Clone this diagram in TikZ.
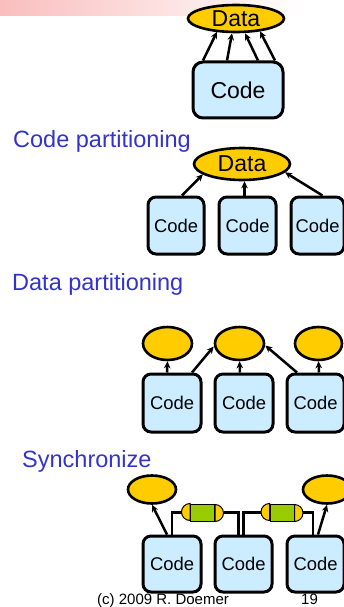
\documentclass[tikz,border=0pt]{standalone}
\usepackage{fontspec}
\setmainfont{Liberation Sans}
\usetikzlibrary{shapes.geometric,arrows.meta}
\definecolor{dgold}{RGB}{255,204,0}
\definecolor{cblue}{RGB}{204,236,255}
\definecolor{cgreen}{RGB}{153,204,0}
\definecolor{tblue}{RGB}{51,51,204}
\definecolor{band}{RGB}{250,190,190}
\tikzset{
  x=1pt, y=1pt,
  dataell/.style={ellipse, draw=black, line width=2.6pt, fill=dgold, inner sep=0pt},
  codebox/.style={rectangle, rounded corners=8pt, draw=black, line width=3pt, fill=cblue, inner sep=0pt},
  bigtxt/.style={font=\fontsize{23}{26}\selectfont},
  smalltxt/.style={font=\fontsize{18.4}{21}\selectfont},
  headtxt/.style={font=\fontsize{23.5}{27}\selectfont, text=tblue, anchor=base west, inner sep=0pt},
  foottxt/.style={font=\fontsize{15}{17}\selectfont, anchor=base west, inner sep=0pt},
  arr/.style={-{Stealth[length=7pt,width=6.5pt]}, line width=2.5pt},
  wire/.style={line width=2.5pt},
  chan/.style={rectangle, draw=black, line width=1pt, fill=cgreen, minimum width=24pt, minimum height=17pt, inner sep=0pt},
  chancap/.style={fill=dgold, draw=black, line width=1pt},
}
\begin{document}
\begin{tikzpicture}
\useasboundingbox (0,0) rectangle (344,-607);
\begin{scope}
\clip (0,0) rectangle (344,-607);
% top band
\shade[left color=band, right color=white] (0,0) rectangle (300,-16);
\fill[white] (300,0) rectangle (344,-16);

% ---- section 1
\node[dataell, bigtxt, minimum width=96pt, minimum height=27pt] (d1) at (236,-18.5) {Data};
\node[codebox, bigtxt, minimum width=90pt, minimum height=56pt, rounded corners=10pt] (c1) at (238,-90) {Code};
\draw[arr] ([xshift=-35pt]c1.north) -- ([xshift=-19pt,yshift=1.5pt]d1.south);
\draw[arr] ([xshift=-11pt]c1.north) -- ([xshift=-4pt]d1.south);
\draw[arr] ([xshift=20pt]c1.north) -- ([xshift=9pt]d1.south);
\draw[arr] ([xshift=37pt]c1.north) -- ([xshift=24pt,yshift=2pt]d1.south);

\node[headtxt] (h1) at (13,-147) {Code partitioning};

% ---- section 2
\node[dataell, bigtxt, minimum width=96pt, minimum height=32pt] (d2) at (242,-164) {Data};
\node[codebox, smalltxt, minimum width=56pt, minimum height=57pt] (c2a) at (176,-225.5) {Code};
\node[codebox, smalltxt, minimum width=57pt, minimum height=57pt] (c2b) at (247.5,-225.5) {Code};
\node[codebox, smalltxt, minimum width=53pt, minimum height=57pt] (c2c) at (317.5,-225.5) {Code};
\draw[arr] ([xshift=6pt]c2a.north) -- ([xshift=-39pt,yshift=7pt]d2.south);
\draw[arr] ([xshift=-3pt]c2b.north) -- ([xshift=2.5pt]d2.south);
\draw[arr] ([xshift=5pt]c2c.north) -- ([xshift=43pt,yshift=9pt]d2.south);

\node[headtxt] (h2) at (12,-290) {Data partitioning};

% ---- section 3
\node[dataell, minimum width=49pt, minimum height=33pt] (e1) at (167.5,-343.5) {};
\node[dataell, minimum width=49pt, minimum height=33pt] (e2) at (239.5,-343.5) {};
\node[dataell, minimum width=47pt, minimum height=33pt] (e3) at (318.5,-343.5) {};
\node[codebox, smalltxt, minimum width=58pt, minimum height=58pt] (c3a) at (172,-403) {Code};
\node[codebox, smalltxt, minimum width=58pt, minimum height=58pt] (c3b) at (244,-403) {Code};
\node[codebox, smalltxt, minimum width=57pt, minimum height=58pt] (c3c) at (315.5,-403) {Code};
\draw[arr] ([xshift=-5pt]c3a.north) -- (e1.south);
\draw[arr] ([xshift=20pt]c3a.north) -- ([yshift=-3pt]e2.west);
\draw[arr] ([xshift=-4pt]c3b.north) -- (e2.south);
\draw[arr] ([xshift=-18.5pt]c3c.north) -- ([yshift=-2pt]e2.east);
\draw[arr] ([xshift=3.5pt]c3c.north) -- (e3.south);

\node[headtxt] (h3) at (22,-467) {Synchronize};

% ---- section 4
\node[dataell, minimum width=48pt, minimum height=28pt] (f1) at (152,-489.5) {};
\node[dataell, minimum width=48pt, minimum height=28pt] (f2) at (327,-489.5) {};
\node[codebox, smalltxt, minimum width=58pt, minimum height=56pt] (c4a) at (172,-564) {Code};
\node[codebox, smalltxt, minimum width=57pt, minimum height=56pt] (c4b) at (243.5,-564) {Code};
\node[codebox, smalltxt, minimum width=57pt, minimum height=56pt] (c4c) at (315.5,-564) {Code};
\draw[arr] ([xshift=-5pt]c4a.north) -- (f1.south);
\draw[arr] ([xshift=2.5pt]c4c.north) -- (f2.south);

% channels
\node[chan] (ch1) at (202.5,-512.5) {};
\node[chan] (ch2) at (282,-512.5) {};
\draw[chancap] (ch1.north west) arc[start angle=90, end angle=270, radius=8.5pt] -- cycle;
\draw[chancap] (ch1.south east) arc[start angle=-90, end angle=90, radius=8.5pt] -- cycle;
\draw[chancap] (ch2.north west) arc[start angle=90, end angle=270, radius=8.5pt] -- cycle;
\draw[chancap] (ch2.south east) arc[start angle=-90, end angle=90, radius=8.5pt] -- cycle;
\coordinate (ch1l) at ([xshift=-8.5pt]ch1.west);
\coordinate (ch1r) at ([xshift=8.5pt]ch1.east);
\coordinate (ch2l) at ([xshift=-8.5pt]ch2.west);
\coordinate (ch2r) at ([xshift=8.5pt]ch2.east);
\draw[wire] (c4a.north) |- (ch1l);
\draw[wire] ([xshift=-5pt]c4b.north) |- (ch1r);
\draw[wire] (c4b.north) |- (ch2l);
\draw[wire] ([xshift=-2.5pt]c4c.north) |- (ch2r);

% footer
\node[foottxt] (ft) at (97,-604) {(c) 2009 R. Doemer};
\node[foottxt] (pg) at (301,-604) {19};
\end{scope}
\end{tikzpicture}
\end{document}
